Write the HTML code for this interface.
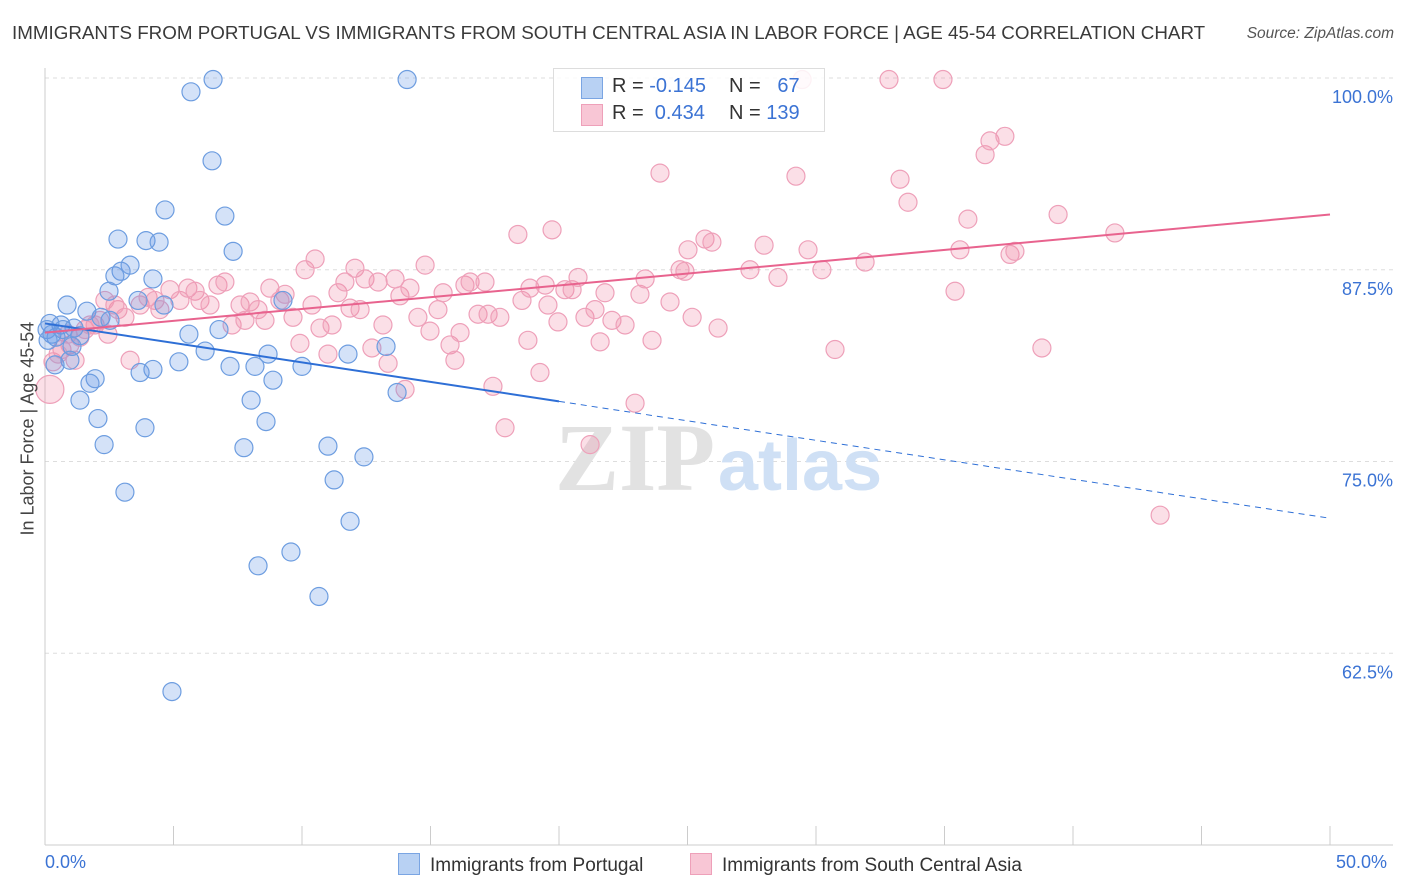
<!DOCTYPE html>
<html><head><meta charset="utf-8">
<style>
body{margin:0;background:#fff;font-family:"Liberation Sans",sans-serif;}
#wrap{position:relative;width:1406px;height:892px;overflow:hidden;}
.t{position:absolute;white-space:nowrap;}
</style></head>
<body>
<div id="wrap">
<div class="t" style="left:12px;top:22px;font-size:18.8px;color:#3a3a3a;">IMMIGRANTS FROM PORTUGAL VS IMMIGRANTS FROM SOUTH CENTRAL ASIA IN LABOR FORCE | AGE 45-54 CORRELATION CHART</div>
<div class="t" style="right:12px;top:25px;font-size:15.5px;color:#555;font-style:italic;">Source: ZipAtlas.com</div>
<svg id="svg" width="1406" height="892" style="position:absolute;left:0;top:0"></svg>
</div>
<script>
const xTicks=[0,5,10,15,20,25,30,35,40,45,50];
const yTicks=[100,87.5,75,62.5];
const yTickLabels=["100.0%","87.5%","75.0%","62.5%"];
const blueX=[6.54,14.09,5.68,6.50,4.67,7.00,2.84,3.93,4.44,7.32,3.31,2.96,2.72,4.20,2.49,0.86,1.63,3.62,4.63,9.26,6.77,2.18,2.53,0.62,0.19,0.27,0.43,0.70,1.13,1.36,1.05,5.60,6.23,8.68,0.97,5.21,4.20,3.70,7.20,8.17,10.0,11.79,13.27,1.95,1.75,8.87,1.36,8.02,13.70,2.06,8.60,3.89,2.30,7.74,11.01,12.41,11.25,3.11,11.87,9.57,8.29,10.66,4.94,0.08,0.39,0.12];
const blueY=[99.9,99.9,99.1,94.6,91.4,91.0,89.5,89.4,89.3,88.7,87.8,87.4,87.1,86.9,86.1,85.2,84.8,85.5,85.2,85.5,83.6,84.4,84.2,83.9,84.0,83.3,83.1,83.6,83.7,83.2,82.5,83.3,82.2,82.0,81.6,81.5,81.0,80.8,81.2,81.2,81.2,82.0,82.5,80.4,80.1,80.3,79.0,79.0,79.5,77.8,77.6,77.2,76.1,75.9,76.0,75.3,73.8,73.0,71.1,69.1,68.2,66.2,60.0,83.6,81.3,82.9];
const pinkX=[0.19,0.31,0.66,0.97,0.51,1.36,1.56,1.95,2.45,2.84,3.11,3.70,4.01,4.28,4.47,4.86,5.25,5.56,5.84,6.03,6.42,6.73,7.00,7.28,7.59,7.78,7.98,8.29,8.56,8.75,9.14,9.34,9.65,9.92,10.12,10.39,10.51,10.70,11.01,11.17,11.40,11.67,11.87,12.06,12.26,12.45,12.72,12.96,13.15,13.35,13.62,13.81,14.01,14.20,14.51,14.79,14.98,15.29,15.49,15.76,15.95,16.15,16.34,16.54,16.85,17.12,17.24,17.43,17.70,17.90,18.40,18.56,18.79,18.87,19.26,19.46,19.57,19.73,19.96,20.23,20.51,20.74,21.01,21.21,21.40,21.60,21.79,22.06,22.57,22.96,23.15,23.35,23.62,23.93,24.32,24.71,24.90,25.02,25.18,25.68,25.95,26.19,27.43,27.98,28.52,29.22,29.46,29.69,30.23,30.74,31.91,32.84,33.27,33.58,34.94,35.41,35.60,35.91,36.58,36.77,37.35,37.55,37.74,38.79,39.42,41.63,43.39,2.14,2.33,2.72,3.31,1.17,0.89,1.75];
const pinkY=[79.7,81.5,82.3,82.6,82.0,83.1,83.6,83.9,83.3,84.9,84.4,85.2,85.7,85.5,84.9,86.2,85.5,86.3,86.1,85.5,85.2,86.5,86.7,83.9,85.2,84.2,85.4,84.9,84.2,86.3,85.5,85.9,84.4,82.7,87.5,85.2,88.2,83.7,82.0,83.9,86.0,86.7,85.0,87.6,84.9,86.9,82.4,86.7,83.9,81.4,86.9,85.8,79.7,86.3,84.4,87.8,83.5,84.9,86.0,82.6,81.6,83.4,86.5,86.7,84.6,86.7,84.6,79.9,84.4,77.2,89.8,85.5,82.9,86.3,80.8,86.5,85.2,90.1,84.1,86.2,86.2,87.0,84.4,76.1,84.9,82.8,86.0,84.2,83.9,78.8,85.9,86.9,82.9,93.8,85.4,87.5,87.4,88.8,84.4,89.5,89.3,83.7,87.5,89.1,87.0,93.6,99.9,88.8,87.5,82.3,88.0,99.9,93.4,91.9,99.9,86.1,88.8,90.8,95.0,95.9,96.2,88.5,88.7,82.4,91.1,89.9,71.5,84.2,85.5,85.2,81.6,81.6,83.3,83.9];
const blueTrend=[84.0,71.3];
const pinkTrend=[83.4,91.1];
const NS="http://www.w3.org/2000/svg";
const svg=document.getElementById('svg');
const X0=45,X1=1330,Y100=78,PX=15.34;
const xs=v=>X0+(v/50)*(X1-X0);
const ys=v=>Y100+(100-v)*PX;
function mk(tag,a){const e=document.createElementNS(NS,tag);for(const k in a)e.setAttribute(k,a[k]);svg.appendChild(e);return e;}
yTicks.forEach((t,i)=>{
 const g=mk('line',{x1:X0,x2:1393,y1:ys(t),y2:ys(t),stroke:'#ddd','stroke-dasharray':'4,4'});
 
 
 const tx=mk('text',{x:1393,y:ys(t)+25,'text-anchor':'end','font-size':18,fill:'#3b73d4','font-family':'Liberation Sans'});
 tx.textContent=yTickLabels[i];
 
 
});
const ax=mk('line',{x1:X0,x2:1393,y1:845,y2:845,stroke:'#ccc'});


const ayl=mk('line',{x1:X0,x2:X0,y1:68,y2:845,stroke:'#ccc'});


xTicks.forEach(t=>{const l=mk('line',{x1:xs(t),x2:xs(t),y1:826,y2:845,stroke:'#ccc'});
 
 });
const wm=mk('text',{x:555,y:490,'font-size':96,fill:'#e2e2e2','font-family':'Liberation Serif','font-weight':'bold'});
wm.textContent='ZIP';


const wm2=mk('text',{x:718,y:490,'font-size':72,fill:'#cfe0f5','font-family':'Liberation Sans','font-weight':'bold'});
wm2.textContent='atlas';


pinkX.forEach((v,i)=>{const c=mk('circle',{cx:xs(v),cy:ys(pinkY[i]),r:i==0?14:9,fill:'rgba(240,140,170,0.28)',stroke:'#eea0b9','stroke-width':1.2});
 
 });
blueX.forEach((v,i)=>{const c=mk('circle',{cx:xs(v),cy:ys(blueY[i]),r:9,fill:'rgba(100,150,230,0.28)',stroke:'#6d9de0','stroke-width':1.2});
 
 });
const bAt=x=>blueTrend[0]+(blueTrend[1]-blueTrend[0])*x/50;
const b1=mk('line',{x1:xs(0),y1:ys(bAt(0)),x2:xs(20),y2:ys(bAt(20)),stroke:'#2e6fd6','stroke-width':2});


const b2=mk('line',{x1:xs(20),y1:ys(bAt(20)),x2:xs(50),y2:ys(bAt(50)),stroke:'#2e6fd6','stroke-width':1,'stroke-dasharray':'6,5'});


const p1=mk('line',{x1:xs(0),y1:ys(pinkTrend[0]),x2:xs(50),y2:ys(pinkTrend[1]),stroke:'#e8638e','stroke-width':2});


</script>
<div class="t" style="left:-52px;top:445px;font-size:18px;color:#444;transform:rotate(-90deg);width:160px;text-align:center;">In Labor Force | Age 45-54</div>
<div class="t" style="left:45px;top:852px;font-size:18px;color:#3b73d4;">0.0%</div>
<div class="t" style="left:1336px;top:852px;font-size:18px;color:#3b73d4;">50.0%</div>
<div style="position:absolute;left:553px;top:68px;width:270px;height:62px;border:1px solid #ddd;background:rgba(255,255,255,0.85);font-size:20px;color:#333;">
 <div style="position:absolute;left:27px;top:8px;width:20px;height:20px;background:#b8d1f3;border:1px solid #7aa5e3;"></div>
 <div class="t" style="left:58px;top:6px;">R = <span style="color:#3b73d4">-0.145</span></div>
 <div class="t" style="left:175px;top:6px;">N = <span style="color:#3b73d4">&nbsp;&nbsp;67</span></div>
 <div style="position:absolute;left:27px;top:35px;width:20px;height:20px;background:#f8c6d5;border:1px solid #eea0b9;"></div>
 <div class="t" style="left:58px;top:33px;">R = <span style="color:#3b73d4">&nbsp;0.434</span></div>
 <div class="t" style="left:175px;top:33px;">N = <span style="color:#3b73d4">139</span></div>
</div>
<div style="position:absolute;left:398px;top:853px;font-size:19px;color:#333;">
 <span style="display:inline-block;width:20px;height:20px;background:#b8d1f3;border:1px solid #7aa5e3;vertical-align:-4px;margin-right:10px;"></span>Immigrants from Portugal</div>
<div style="position:absolute;left:690px;top:853px;font-size:19px;color:#333;">
 <span style="display:inline-block;width:20px;height:20px;background:#f8c6d5;border:1px solid #eea0b9;vertical-align:-4px;margin-right:10px;"></span>Immigrants from South Central Asia</div>
</body></html>
